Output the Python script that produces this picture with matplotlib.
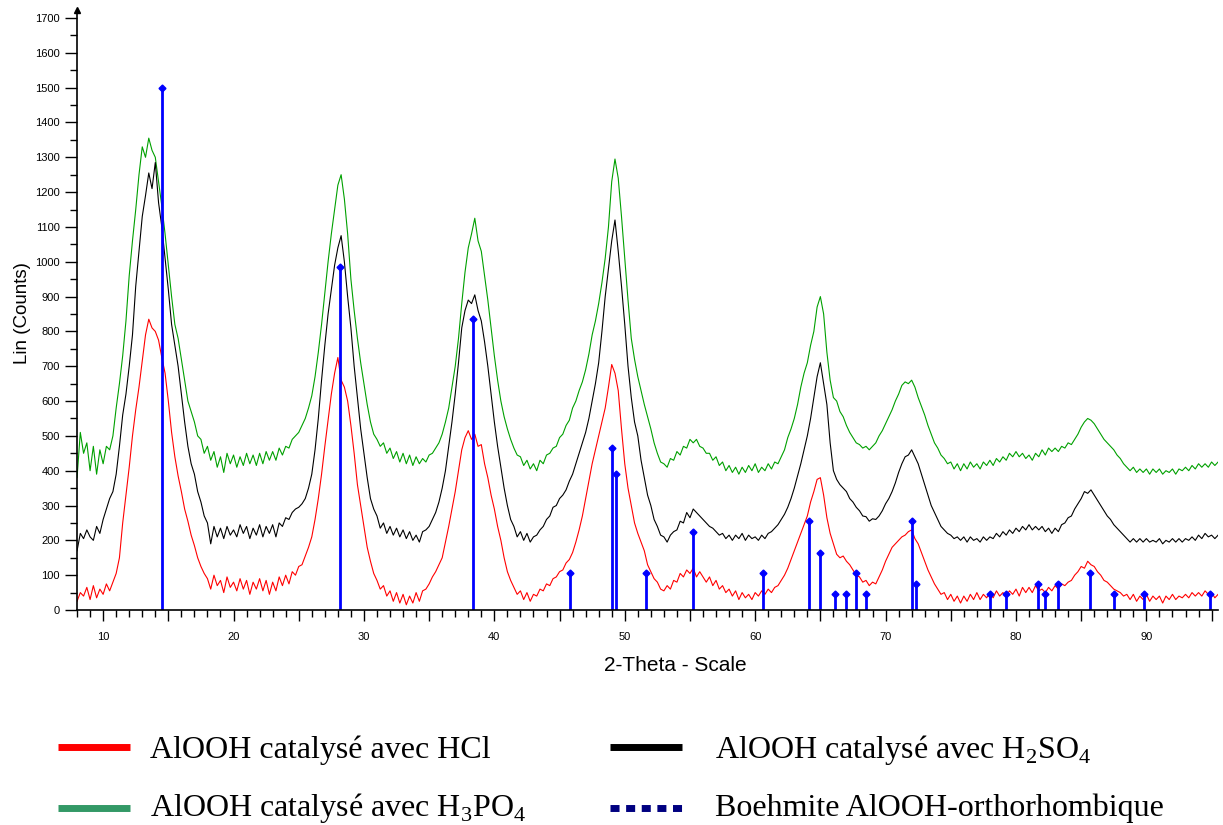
import numpy as np
import matplotlib.pyplot as plt
from matplotlib.lines import Line2D
from matplotlib.ticker import MultipleLocator, FuncFormatter

# scan settings (2-theta, degrees)
theta_start = 8.0
theta_step = 0.25

# counts, one row per 5 degrees
counts_hcl = [
    25, 50, 40, 65, 30, 70, 35, 60, 45, 75, 55, 80, 105, 150, 250, 330, 410, 500, 575, 640,
    715, 790, 835, 810, 800, 775, 725, 680, 600, 510, 440, 385, 340, 290, 255, 215, 185, 150, 125, 105,
    90, 60, 100, 70, 85, 50, 95, 65, 80, 55, 90, 60, 85, 45, 80, 60, 90, 55, 85, 45,
    80, 55, 95, 70, 100, 75, 110, 100, 125, 130, 155, 180, 210, 260, 320, 390, 470, 545, 620, 680,
    725, 660, 640, 600, 530, 450, 360, 300, 240, 180, 140, 105, 85, 60, 70, 40, 55, 25, 50, 20,
    45, 15, 40, 20, 50, 25, 55, 60, 75, 95, 110, 130, 150, 195, 240, 290, 340, 400, 460, 495,
    515, 490, 505, 470, 475, 420, 380, 330, 290, 240, 200, 150, 110, 85, 65, 45, 55, 30, 50, 25,
    45, 40, 60, 55, 75, 70, 90, 95, 110, 115, 135, 145, 165, 195, 230, 270, 320, 370, 420, 460,
    500, 540, 580, 640, 705, 680, 630, 520, 420, 350, 300, 250, 220, 195, 170, 130, 110, 90, 80, 60,
    55, 70, 60, 85, 80, 105, 95, 115, 105, 120, 95, 110, 95, 80, 95, 70, 85, 60, 70, 50,
    60, 40, 55, 30, 50, 35, 45, 30, 50, 40, 55, 45, 60, 50, 65, 70, 85, 100, 120, 145,
    170, 195, 220, 245, 270, 310, 340, 375, 380, 330, 265, 220, 190, 160, 150, 155, 140, 130, 115, 100,
    95, 80, 85, 70, 80, 75, 95, 115, 140, 160, 180, 190, 200, 210, 215, 225, 230, 205, 190, 165,
    140, 115, 95, 75, 60, 45, 50, 30, 45, 25, 40, 20, 40, 25, 45, 30, 50, 30, 45, 35,
    50, 35, 55, 40, 50, 40, 55, 45, 60, 40, 65, 50, 65, 50, 70, 55, 60, 50, 65, 55,
    70, 60, 75, 70, 80, 85, 100, 110, 125, 120, 140, 130, 125, 110, 100, 85, 80, 70, 60, 55,
    50, 40, 45, 30, 45, 25, 40, 30, 45, 25, 40, 30, 40, 20, 40, 30, 45, 30, 40, 35,
    45, 35, 50, 40, 50, 40, 55, 45, 50, 35, 45,
]

counts_h2so4 = [
    170, 220, 205, 230, 210, 200, 240, 220, 260, 290, 320, 340, 390, 470, 560, 620, 700, 790, 930, 1030,
    1130, 1190, 1255, 1210, 1285, 1170, 1100, 1010, 920, 820, 760, 700, 620, 540, 470, 420, 390, 340, 310, 270,
    250, 190, 240, 210, 235, 205, 240, 215, 230, 210, 245, 220, 240, 205, 235, 215, 245, 210, 240, 220,
    245, 210, 250, 240, 265, 260, 280, 290, 295, 305, 320, 350, 390, 460, 550, 660, 760, 850, 920, 990,
    1040, 1075, 1000, 900, 810, 700, 610, 520, 450, 380, 320, 290, 270, 235, 250, 220, 240, 215, 235, 210,
    230, 205, 225, 200, 215, 195, 225, 230, 240, 260, 280, 310, 350, 400, 470, 540, 620, 710, 810, 860,
    890, 880, 905, 860, 830, 770, 700, 620, 540, 470, 410, 350, 300, 260, 240, 210, 225, 200, 220, 195,
    210, 215, 230, 240, 260, 270, 295, 300, 320, 330, 345, 370, 390, 420, 450, 480, 510, 550, 600, 650,
    710, 800, 900, 980, 1060, 1120, 1030, 930, 820, 700, 610, 540, 500, 430, 380, 330, 300, 260, 240, 215,
    210, 195, 215, 225, 230, 255, 250, 280, 265, 290, 280, 270, 260, 250, 240, 235, 225, 215, 220, 205,
    215, 200, 215, 205, 220, 200, 215, 205, 210, 200, 215, 205, 220, 225, 235, 245, 260, 275, 295, 320,
    350, 385, 420, 460, 500, 550, 610, 670, 710, 650, 590, 480, 400, 375, 360, 350, 340, 320, 310, 295,
    285, 270, 268, 255, 262, 260, 270, 285, 305, 320, 340, 365, 395, 420, 440, 445, 460, 440, 420, 390,
    360, 330, 300, 280, 260, 240, 230, 220, 215, 205, 210, 200, 210, 195, 210, 200, 205, 195, 210, 200,
    210, 205, 220, 210, 225, 215, 230, 220, 235, 225, 240, 230, 245, 230, 240, 230, 240, 225, 235, 220,
    235, 225, 245, 250, 265, 270, 290, 305, 320, 340, 335, 345, 330, 315, 300, 285, 270, 260, 245, 235,
    225, 215, 205, 195, 205, 195, 205, 195, 205, 195, 200, 195, 205, 190, 200, 195, 205, 195, 205, 195,
    205, 200, 210, 200, 215, 205, 220, 210, 215, 205, 215,
]

counts_h3po4 = [
    380, 510, 450, 480, 400, 470, 390, 460, 420, 470, 460, 500, 580, 650, 730, 830, 960, 1060, 1150, 1250,
    1330, 1300, 1355, 1320, 1300, 1230, 1160, 1080, 990, 900, 820, 780, 720, 660, 600, 570, 540, 500, 490, 450,
    470, 430, 455, 410, 440, 395, 450, 420, 445, 410, 440, 415, 450, 420, 445, 415, 450, 420, 455, 430,
    455, 430, 465, 445, 470, 465, 490, 500, 510, 530, 550, 580, 615, 670, 740, 820, 910, 1000, 1080, 1150,
    1220, 1250, 1180, 1080, 950, 860, 780, 710, 650, 590, 540, 505, 490, 470, 480, 450, 465, 435, 455, 425,
    450, 420, 445, 415, 440, 420, 435, 425, 445, 450, 465, 480, 505, 540, 580, 640, 700, 780, 880, 970,
    1040, 1080, 1125, 1060, 1030, 960, 890, 810, 730, 660, 600, 555, 520, 490, 465, 445, 440, 415, 430, 405,
    420, 400, 430, 420, 445, 450, 465, 470, 495, 505, 530, 545, 580, 600, 630, 655, 690, 735, 790, 830,
    880, 940, 1010, 1100, 1230, 1295, 1240, 1130, 1010, 890, 780, 720, 670, 630, 590, 555, 520, 480, 450, 425,
    420, 410, 435, 430, 455, 445, 470, 465, 490, 480, 490, 470, 465, 450, 450, 430, 440, 415, 425, 400,
    415, 395, 410, 390, 410, 395, 415, 400, 420, 395, 410, 400, 420, 405, 425, 420, 440, 460, 495, 520,
    550, 590, 640, 680, 710, 760, 800, 870, 900, 850, 740, 660, 610, 600, 570, 555, 530, 510, 495, 480,
    475, 465, 470, 460, 470, 480, 500, 515, 535, 555, 575, 600, 620, 645, 655, 650, 660, 640, 610, 585,
    560, 530, 505, 480, 465, 445, 435, 420, 425, 405, 420, 400, 420, 405, 425, 410, 420, 405, 425, 415,
    430, 415, 435, 425, 440, 430, 450, 440, 455, 440, 450, 435, 445, 430, 450, 440, 460, 445, 465, 455,
    465, 455, 470, 465, 480, 475, 490, 505, 525, 540, 550, 545, 535, 520, 505, 490, 480, 470, 460, 445,
    435, 420, 410, 400, 410, 395, 405, 395, 405, 390, 405, 395, 405, 390, 400, 395, 405, 390, 405, 400,
    410, 400, 415, 405, 420, 410, 420, 410, 425, 415, 425,
]

# reference pattern (stick lines)
ref_theta = [14.5, 28.2, 38.4, 45.8, 49.0, 49.3, 51.6, 55.2, 60.6, 64.1, 65.0, 66.1, 67.0,
             67.7, 68.5, 72.0, 72.35, 78.0, 79.2, 81.7, 82.2, 83.2, 85.7, 87.5, 89.8, 94.9]
ref_counts = [1500, 985, 835, 105, 465, 390, 105, 225, 105, 255, 165, 45, 45,
              105, 45, 255, 75, 45, 45, 75, 45, 75, 105, 45, 45, 45]

labels = ["AlOOH catalysé avec HCl",
          r"AlOOH catalysé avec H$_\mathregular{2}$SO$_\mathregular{4}$",
          r"AlOOH catalysé avec H$_\mathregular{3}$PO$_\mathregular{4}$",
          "Boehmite AlOOH-orthorhombique"]

theta = theta_start + theta_step * np.arange(len(counts_hcl))

plt.rcParams['font.family'] = ['Liberation Sans', 'DejaVu Sans']

fig = plt.figure(figsize=(12.23, 8.25), dpi=100)
ax = fig.add_axes([0.063, 0.2606, 0.933, 0.7273])

ax.plot(theta, counts_h3po4, color='#00a000', lw=0.8)
ax.plot(theta, counts_h2so4, color='black', lw=0.8)
ax.plot(theta, counts_hcl, color='#ff0000', lw=0.8)
ax.vlines(ref_theta, 0, ref_counts, color='#0000ff', lw=2.0)
ax.plot(ref_theta, ref_counts, 'D', color='#0000ff', ms=3.5)

ax.set_xlim(8, 95.5)
ax.set_ylim(0, 1723)
for s in ['top', 'right']:
    ax.spines[s].set_visible(False)
for s in ['left', 'bottom']:
    ax.spines[s].set_linewidth(1.2)
ax.plot(0, 1, marker='^', color='black', ms=4, transform=ax.transAxes, clip_on=False)

ax.xaxis.set_major_locator(MultipleLocator(5))
ax.xaxis.set_minor_locator(MultipleLocator(1))
ax.xaxis.set_major_formatter(FuncFormatter(lambda v, p: f"{v:.0f}" if v % 10 == 0 else ""))
ax.yaxis.set_major_locator(MultipleLocator(100))
ax.yaxis.set_minor_locator(MultipleLocator(50))
ax.tick_params(axis='x', which='major', length=8, width=1, labelsize=8, pad=8)
ax.tick_params(axis='x', which='minor', length=5, width=1)
ax.tick_params(axis='y', which='major', length=8.5, width=1, labelsize=8, pad=4)
ax.tick_params(axis='y', which='minor', length=5, width=1)

ax.set_xlabel("2-Theta - Scale", fontsize=15)
ax.xaxis.set_label_coords(0.524, -0.076)
ax.set_ylabel("Lin (Counts)", fontsize=13.5)
ax.yaxis.set_label_coords(-0.040, 0.495)

# legend drawn by hand below the axes (2 x 2 grid), positions in pixels
W, H = 1223.0, 825.0
legend_items = [
    (labels[0], dict(color='#ff0000'), 58, 150, 747, 758),
    (labels[1], dict(color='black'), 610, 715, 747, 758),
    (labels[2], dict(color='#339966'), 58, 150, 808, 816),
    (labels[3], dict(color='#000080', linestyle=(0, (1.3, 0.95))), 610, 715, 808, 816),
]
for text, style, x0, xt, yc, yb in legend_items:
    fig.add_artist(Line2D([x0 / W, (x0 + 72) / W], [1 - yc / H, 1 - yc / H],
                          lw=5, solid_capstyle='butt', dash_capstyle='butt', **style))
    fig.text(xt / W, 1 - yb / H, text, ha='left', va='baseline',
             family='Liberation Serif', fontsize=23)

fig.savefig('out.png', dpi=100)
